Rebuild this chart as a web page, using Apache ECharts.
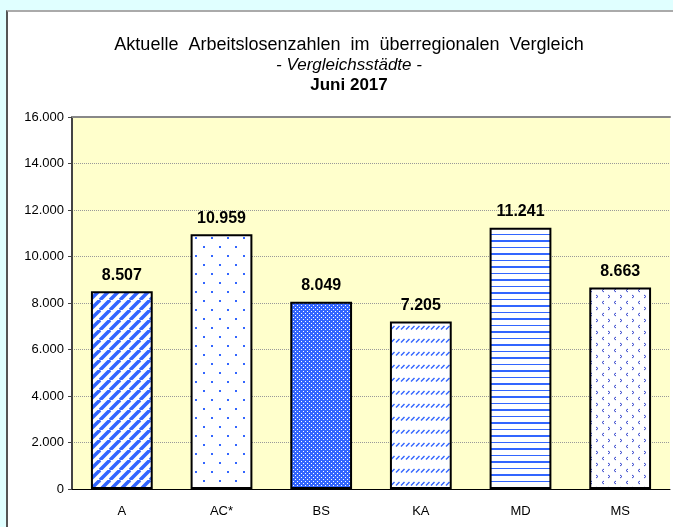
<!DOCTYPE html>
<html>
<head>
<meta charset="utf-8">
<script src="https://cdn.jsdelivr.net/npm/echarts@6/dist/echarts.min.js"></script>
<style>
  html, body { margin: 0; padding: 0; background: #e0ffff; }
  #panel { position: absolute; left: 6px; top: 10px; width: 680px; height: 540px;
           background: #fff; border-left: 2px solid #555; border-top: 2px solid #aaa; }
  #main { position: absolute; left: 0; top: 0; width: 673px; height: 527px; }
</style>
</head>
<body>
<div id="panel"></div>
<div id="main"></div>
<script>
// Städte und Arbeitslose Juni 2017
const cities = ["A", "AC*", "BS", "KA", "MD", "MS"];
const unemployed = [8507, 10959, 8049, 7205, 11241, 8663];

const BLUE = "#3366ff";

// kleine Musterkacheln wie im Excel-Diagramm
const tile = (w, h, draw) => {
    const c = document.createElement("canvas");
    c.width = w; c.height = h;
    const ctx = c.getContext("2d");
    ctx.fillStyle = "#fff";
    ctx.fillRect(0, 0, w, h);
    draw(ctx, w, h);
    return { image: c, repeat: "repeat" };
};

const patterns = [
    // A: breite Schrägstreifen
    tile(10, 10, ctx => {
        ctx.strokeStyle = BLUE; ctx.lineWidth = 3.5;
        for (let k = -1; k <= 1; k++) {
            ctx.beginPath(); ctx.moveTo(k * 10, 10); ctx.lineTo(k * 10 + 10, 0); ctx.stroke();
        }
    }),
    // AC*: lockere Punkte
    tile(16, 18, ctx => {
        ctx.fillStyle = BLUE;
        ctx.fillRect(3, 3, 2, 2);
        ctx.fillRect(11, 12, 2, 2);
    }),
    // BS: dichtes Raster
    tile(4, 4, ctx => {
        ctx.fillStyle = BLUE; ctx.fillRect(0, 0, 4, 4);
        ctx.fillStyle = "#fff";
        ctx.fillRect(1, 1, 1, 1);
        ctx.fillRect(3, 3, 1, 1);
    }),
    // KA: kurze Schrägstriche in Reihen
    tile(5, 13, ctx => {
        ctx.strokeStyle = BLUE; ctx.lineWidth = 1.4;
        ctx.beginPath(); ctx.moveTo(1, 4.5); ctx.lineTo(4.5, 1); ctx.stroke();
    }),
    // MD: waagerechte Linien
    tile(8, 13, ctx => {
        ctx.fillStyle = BLUE;
        ctx.fillRect(0, 0, 8, 1);
        ctx.fillRect(0, 6, 8, 2);
    }),
    // MS: kleine Winkel
    tile(12, 12, ctx => {
        ctx.strokeStyle = "#3344cc"; ctx.lineWidth = 1;
        ctx.beginPath(); ctx.moveTo(4, 1); ctx.lineTo(2, 2.5); ctx.lineTo(4, 4); ctx.stroke();
        ctx.beginPath(); ctx.moveTo(8, 7); ctx.lineTo(10, 8.5); ctx.lineTo(8, 10); ctx.stroke();
    })
];

const fmt = v => String(v).replace(/\B(?=(\d{3})+(?!\d))/g, ".");

const chart = echarts.init(document.getElementById("main"));

const titleFont = "Liberation Sans";

const option = {
    animation: false,
    textStyle: { fontFamily: "Liberation Sans, Arial, sans-serif" },
    title: {
        left: 344,
        top: 30,
        textAlign: "center",
        text: "{a|Aktuelle  Arbeitslosenzahlen  im  überregionalen  Vergleich}\n{b|- Vergleichsstädte -}\n{c|Juni 2017}",
        textStyle: {
            fontWeight: "normal",
            rich: {
                a: { fontSize: 18, color: "#000", lineHeight: 20, fontWeight: "normal", fontFamily: titleFont },
                b: { fontSize: 17, color: "#000", lineHeight: 20, fontStyle: "italic", fontWeight: "normal", fontFamily: titleFont },
                c: { fontSize: 17, color: "#000", lineHeight: 20, fontWeight: "bold", fontFamily: titleFont }
            }
        }
    },
    grid: {
        left: 72, top: 117, right: 3, bottom: 38,
        show: true, backgroundColor: "#ffffcc", borderWidth: 0
    },
    xAxis: [
        {
            type: "category",
            data: cities,
            axisLine: { lineStyle: { color: "#000", width: 1 } },
            axisTick: { length: 5, lineStyle: { color: "#666" } },
            axisLabel: { color: "#000", fontSize: 13, margin: 16 }
        },
        {
            type: "category",
            position: "top",
            data: cities,
            axisLine: { lineStyle: { color: "#888", width: 2 } },
            axisTick: { show: false },
            axisLabel: { show: false }
        }
    ],
    yAxis: {
        type: "value",
        min: 0,
        max: 16000,
        interval: 2000,
        axisLine: { show: true, lineStyle: { color: "#444", width: 2 } },
        axisTick: { show: true, length: 4, lineStyle: { color: "#444" } },
        axisLabel: { color: "#000", fontSize: 13, margin: 8, formatter: fmt },
        splitLine: { lineStyle: { color: "#999", type: "dotted" } }
    },
    series: [{
        type: "bar",
        barWidth: "62%",
        data: unemployed.map((v, i) => ({
            value: v,
            itemStyle: { color: patterns[i] }
        })),
        itemStyle: { borderColor: "#000", borderWidth: 2 },
        label: {
            show: true,
            position: "top",
            distance: 8,
            color: "#000",
            fontSize: 16,
            fontWeight: "bold",
            formatter: p => fmt(p.value)
        }
    }]
};

chart.setOption(option);
</script>
</body>
</html>
